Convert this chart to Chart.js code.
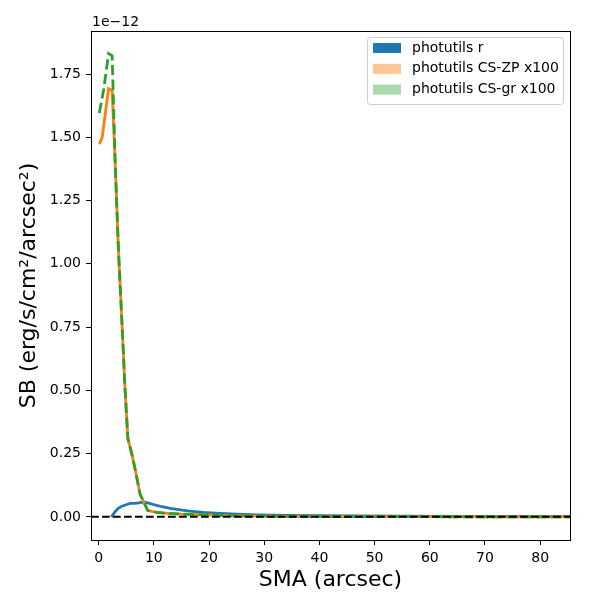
<!DOCTYPE html>
<html lang="en">
<head>
  <meta charset="UTF-8">
  <title>SB profile</title>
  <style>
    body {
      margin: 0;
      background: #fff;
    }
    #sb-chart {
      display: block;
    }
  </style>
</head>
<body>
  <canvas id="sb-chart" width="600" height="600"></canvas>

  <script src="https://cdn.jsdelivr.net/npm/chart.js"></script>
  <script>
    // surface brightness, in units of 1e-12 erg/s/cm^2/arcsec^2
    const rSma = [2.3, 2.9, 3.5, 4.2, 5.0, 5.7, 6.5, 7.3, 7.9, 8.5, 9.2, 10.2, 11.5, 13, 14.5, 16.5, 19, 22, 25, 29, 34, 40, 47, 55, 65, 75, 86];
    const rSb = [0.0, 0.018, 0.033, 0.042, 0.048, 0.053, 0.053, 0.055, 0.058, 0.057, 0.053, 0.047, 0.040, 0.034, 0.029, 0.023, 0.018, 0.014, 0.011, 0.008, 0.006, 0.005, 0.004, 0.003, 0.002, 0.0015, 0.001];

    const zpSma = [0.13, 0.65, 1.8, 2.45, 3.0, 3.6, 4.2, 4.8, 5.3, 6.0, 6.7, 7.5, 8.9, 10.5, 12.5, 15, 18, 22, 26, 30, 36, 42, 50, 60, 70, 80, 86];
    const zpSb = [1.473, 1.50, 1.692, 1.685, 1.40, 1.05, 0.78, 0.50, 0.31, 0.25, 0.18, 0.09, 0.025, 0.018, 0.014, 0.011, 0.009, 0.006, 0.004, 0.003, 0.002, 0.0015, 0.001, 0.0006, 0.0004, 0.0003, 0.0002];

    const grSma = [0.13, 0.9, 1.8, 2.45, 3.0, 3.6, 4.2, 4.8, 5.3, 6.0, 6.7, 7.5, 8.9, 10.5, 12.5, 15, 18, 22, 26, 30, 36, 42, 50, 60, 70, 80, 86];
    const grSb = [1.596, 1.686, 1.831, 1.822, 1.40, 1.05, 0.78, 0.50, 0.31, 0.25, 0.18, 0.09, 0.025, 0.018, 0.014, 0.011, 0.009, 0.006, 0.004, 0.003, 0.002, 0.0015, 0.001, 0.0006, 0.0004, 0.0003, 0.0002];

    const xTicks = [0, 10, 20, 30, 40, 50, 60, 70, 80];
    const yTicks = [0, 0.25, 0.5, 0.75, 1.0, 1.25, 1.5, 1.75];
    const xMin = -1.38, xMax = 85.4;
    const yMin = -0.0914, yMax = 1.92;

    const labels = ['photutils r', 'photutils CS-ZP x100', 'photutils CS-gr x100'];
    const legendColors = ['#1f77b4', 'rgba(255,127,14,0.45)', 'rgba(44,160,44,0.4)'];

    const toPoints = (xs, ys) => xs.map((x, i) => ({ x: x, y: ys[i] }));

    const font = 'DejaVu Sans';

    // frame, offset text and legend drawn like matplotlib
    const extras = {
      id: 'extras',
      afterDraw(chart) {
        const ctx = chart.ctx;
        const a = chart.chartArea;
        ctx.save();
        ctx.strokeStyle = '#000';
        ctx.lineWidth = 1;
        ctx.strokeRect(Math.round(a.left) + 0.5, Math.round(a.top) + 0.5,
          Math.round(a.right - a.left), Math.round(a.bottom - a.top));

        ctx.fillStyle = '#000';
        ctx.font = '14px "' + font + '"';
        ctx.textBaseline = 'alphabetic';
        ctx.textAlign = 'left';
        ctx.fillText('1e\u221212', a.left + 1, a.top - 5);

        // legend box
        const bx = 367, by = 37, bw = 196, bh = 67;
        ctx.beginPath();
        ctx.roundRect(bx + 0.5, by + 0.5, bw, bh, 3);
        ctx.fillStyle = 'rgba(255,255,255,0.8)';
        ctx.fill();
        ctx.strokeStyle = '#cccccc';
        ctx.stroke();
        ctx.textBaseline = 'middle';
        labels.forEach((lab, i) => {
          const cy = by + 11 + i * 20.8;
          ctx.fillStyle = legendColors[i];
          ctx.fillRect(bx + 6, cy - 5, 28, 10);
          ctx.fillStyle = '#000';
          ctx.fillText(lab, bx + 45, cy);
        });
        ctx.restore();
      }
    };

    new Chart(document.getElementById('sb-chart'), {
      type: 'line',
      data: {
        datasets: [
          {
            label: 'zero',
            data: [{ x: xMin, y: 0 }, { x: xMax, y: 0 }],
            borderColor: '#000',
            borderWidth: 2,
            borderDash: [7.7, 3.3],
            pointRadius: 0,
            order: 0
          },
          {
            label: labels[2],
            data: toPoints(grSma, grSb),
            borderColor: '#2ca02c',
            borderWidth: 2.8,
            borderDash: [10.3, 4.4],
            pointRadius: 0,
            order: 1
          },
          {
            label: labels[1],
            data: toPoints(zpSma, zpSb),
            borderColor: '#ff7f0e',
            borderWidth: 2.8,
            pointRadius: 0,
            order: 2
          },
          {
            label: labels[0],
            data: toPoints(rSma, rSb),
            borderColor: '#1f77b4',
            borderWidth: 2.8,
            pointRadius: 0,
            order: 3
          }
        ]
      },
      options: {
        responsive: false,
        animation: false,
        devicePixelRatio: 1,
        layout: { padding: { left: 0, top: 31, right: 30, bottom: 0 } },
        plugins: {
          legend: { display: false },
          tooltip: { enabled: false }
        },
        scales: {
          x: {
            type: 'linear',
            min: xMin,
            max: xMax,
            afterBuildTicks: s => { s.ticks = xTicks.map(v => ({ value: v })); },
            afterFit: s => { s.height = 60; },
            grid: { drawOnChartArea: false, drawTicks: true, tickLength: 5, color: '#000' },
            border: { color: '#000' },
            ticks: {
              color: '#000',
              padding: 5,
              maxRotation: 0,
              font: { family: font, size: 14 },
              callback: v => String(v)
            },
            title: {
              display: true,
              text: 'SMA (arcsec)',
              color: '#000',
              font: { family: font, size: 22 },
              padding: { top: 0, bottom: 7 }
            }
          },
          y: {
            type: 'linear',
            min: yMin,
            max: yMax,
            afterBuildTicks: s => { s.ticks = yTicks.map(v => ({ value: v })); },
            afterFit: s => { s.width = 91; },
            grid: { drawOnChartArea: false, drawTicks: true, tickLength: 5, color: '#000' },
            border: { color: '#000' },
            ticks: {
              color: '#000',
              padding: 5,
              font: { family: font, size: 14 },
              callback: v => v.toFixed(2)
            },
            title: {
              display: true,
              text: 'SB (erg/s/cm\u00b2/arcsec\u00b2)',
              color: '#000',
              font: { family: font, size: 22 },
              padding: { top: 16, bottom: 0 }
            }
          }
        }
      },
      plugins: [extras]
    });
  </script>
</body>
</html>
